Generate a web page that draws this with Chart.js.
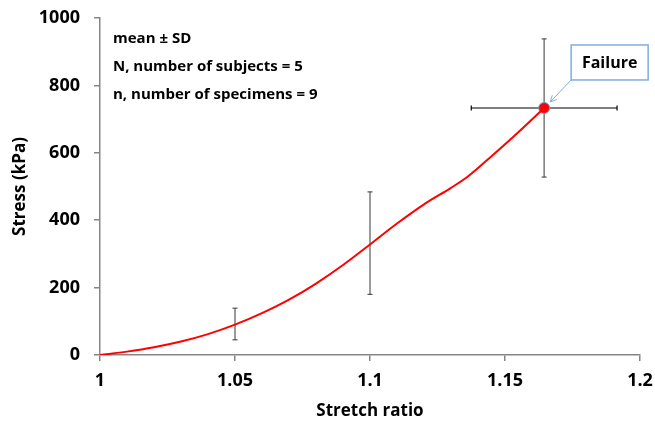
<!DOCTYPE html>
<html>
<head>
<meta charset="utf-8">
<script src="https://cdn.jsdelivr.net/npm/chart.js@4.4.1/dist/chart.umd.min.js"></script>
<style>
  html, body { margin: 0; padding: 0; background: #fff; }
  #wrap { width: 655px; height: 425px; }
</style>
</head>
<body>
<div id="wrap"><canvas id="c" width="655" height="425"></canvas></div>
<script>
// mean stress-stretch curve
const stretchRatio = [1.0, 1.01, 1.02, 1.03, 1.04, 1.05, 1.06, 1.07, 1.08, 1.09, 1.10, 1.11, 1.12, 1.13, 1.136, 1.145, 1.153, 1.1645];
const stressKPa    = [0,   10,   23,   40,   62,   90,   124,  164,  212,  267,  328,  390,  447,  496,  528,   590,   647,   733];

// error bars (mean ± SD)
const barX      = [1.05, 1.10, 1.1645];
const barY      = [92,   332,  733];
const barSdY    = [47,   152,  205];
const barSdX    = [0,    0,    0.027];

const failurePoint = { x: 1.1645, y: 733 };

const xTicks = [1, 1.05, 1.1, 1.15, 1.2];
const yTicks = [0, 200, 400, 600, 800, 1000];

const notes = ['mean \u00b1 SD', 'N, number of subjects = 5', 'n, number of specimens = 9'];

const FONT = '"Open Sans", Lato, sans-serif';
const AXIS_GRAY = '#868686';

const overlayPlugin = {
  id: 'overlay',
  beforeDatasetsDraw(chart) {
    const { ctx, scales: { x, y } } = chart;
    ctx.save();
    barX.forEach((bx, i) => {
      const px = x.getPixelForValue(bx);
      const py = y.getPixelForValue(barY[i]);
      // vertical SD
      const top = y.getPixelForValue(barY[i] + barSdY[i]);
      const bot = y.getPixelForValue(barY[i] - barSdY[i]);
      ctx.strokeStyle = '#7a7a7a';
      ctx.lineWidth = 1.5;
      ctx.beginPath();
      ctx.moveTo(px, top); ctx.lineTo(px, bot);
      ctx.stroke();
      ctx.strokeStyle = '#333';
      ctx.lineWidth = 1;
      ctx.beginPath();
      ctx.moveTo(px - 2.5, top); ctx.lineTo(px + 2.5, top);
      ctx.moveTo(px - 2.5, bot); ctx.lineTo(px + 2.5, bot);
      ctx.stroke();
      // horizontal SD
      if (barSdX[i] > 0) {
        const l = x.getPixelForValue(bx - barSdX[i]);
        const r = x.getPixelForValue(bx + barSdX[i]);
        ctx.strokeStyle = '#000';
        ctx.lineWidth = 1.2;
        ctx.beginPath();
        ctx.moveTo(l, py); ctx.lineTo(r, py);
        ctx.moveTo(l, py - 2.5); ctx.lineTo(l, py + 2.5);
        ctx.moveTo(r, py - 2.5); ctx.lineTo(r, py + 2.5);
        ctx.stroke();
      }
    });
    ctx.restore();
  },
  afterDraw(chart) {
    const { ctx, scales: { x, y } } = chart;
    ctx.save();
    // notes
    ctx.fillStyle = '#000';
    ctx.font = 'bold 15px ' + FONT;
    ctx.textBaseline = 'middle';
    ctx.textAlign = 'left';
    notes.forEach((t, i) => ctx.fillText(t, 113, 39 + i * 28));

    // failure callout
    const fx = x.getPixelForValue(failurePoint.x);
    const fy = y.getPixelForValue(failurePoint.y);
    const bx = fx + 27, by = fy - 63, bw = 77, bh = 35;
    ctx.fillStyle = '#fff';
    ctx.fillRect(bx, by, bw, bh);
    ctx.strokeStyle = '#7eaede';
    ctx.lineWidth = 1.5;
    ctx.strokeRect(bx, by, bw, bh);
    ctx.fillStyle = '#000';
    ctx.font = 'bold 16px ' + FONT;
    ctx.textAlign = 'center';
    ctx.fillText('Failure', bx + bw / 2, by + bh / 2 + 1);
    // arrow
    const ax = fx + 6, ay = fy - 6;
    ctx.strokeStyle = '#7eaede';
    ctx.lineWidth = 1;
    ctx.beginPath();
    ctx.moveTo(bx, by + bh);
    ctx.lineTo(ax, ay);
    ctx.stroke();
    const ang = Math.atan2(ay - (by + bh), ax - bx);
    ctx.beginPath();
    ctx.moveTo(ax - 7 * Math.cos(ang - 0.45), ay - 7 * Math.sin(ang - 0.45));
    ctx.lineTo(ax, ay);
    ctx.lineTo(ax - 7 * Math.cos(ang + 0.45), ay - 7 * Math.sin(ang + 0.45));
    ctx.stroke();
    ctx.restore();
  }
};

new Chart(document.getElementById('c'), {
  type: 'scatter',
  data: {
    datasets: [
      {
        label: 'mean',
        data: stretchRatio.map((v, i) => ({ x: v, y: stressKPa[i] })),
        showLine: true,
        borderColor: '#ff0000',
        borderWidth: 2,
        pointRadius: 0,
        cubicInterpolationMode: 'monotone',
        fill: false
      },
      {
        label: 'failure',
        data: [failurePoint],
        pointRadius: 5.5,
        pointBackgroundColor: '#ff0000',
        pointBorderColor: '#6fa0d8',
        pointBorderWidth: 1
      }
    ]
  },
  options: {
    responsive: false,
    animation: false,
    devicePixelRatio: 1,
    layout: { padding: { top: 18, right: 15, left: 0, bottom: 0 } },
    plugins: { legend: { display: false }, tooltip: { enabled: false } },
    scales: {
      x: {
        type: 'linear',
        min: 1, max: 1.2,
        afterBuildTicks: s => { s.ticks = xTicks.map(v => ({ value: v })); },
        afterFit: s => { s.height = 70; s.paddingLeft = 0; s.paddingRight = 0; },
        grid: { display: true, drawOnChartArea: false, drawTicks: true, tickLength: 6, color: AXIS_GRAY, lineWidth: 1.5 },
        border: { color: AXIS_GRAY, width: 1.5 },
        ticks: { color: '#000', font: { family: FONT, size: 18, weight: 'bold' }, padding: 9, maxRotation: 0, autoSkip: false,
                 callback: v => String(Math.round(v * 100) / 100) },
        title: { display: true, text: 'Stretch ratio', color: '#000', font: { family: FONT, size: 17, weight: 'bold' }, padding: { top: 4, bottom: 4 } }
      },
      y: {
        min: 0, max: 1000,
        afterBuildTicks: s => { s.ticks = yTicks.map(v => ({ value: v })); },
        afterFit: s => { s.width = 100; s.paddingTop = 0; s.paddingBottom = 0; },
        grid: { display: true, drawOnChartArea: false, drawTicks: true, tickLength: 6, color: AXIS_GRAY, lineWidth: 1.5 },
        border: { color: AXIS_GRAY, width: 1.5 },
        ticks: { color: '#000', font: { family: FONT, size: 18, weight: 'bold' }, padding: 14, autoSkip: false,
                 callback: v => String(v) },
        title: { display: true, text: 'Stress (kPa)', color: '#000', font: { family: FONT, size: 17, weight: 'bold' }, padding: { top: 10, bottom: 4 } }
      }
    }
  },
  plugins: [overlayPlugin]
});
</script>
</body>
</html>
